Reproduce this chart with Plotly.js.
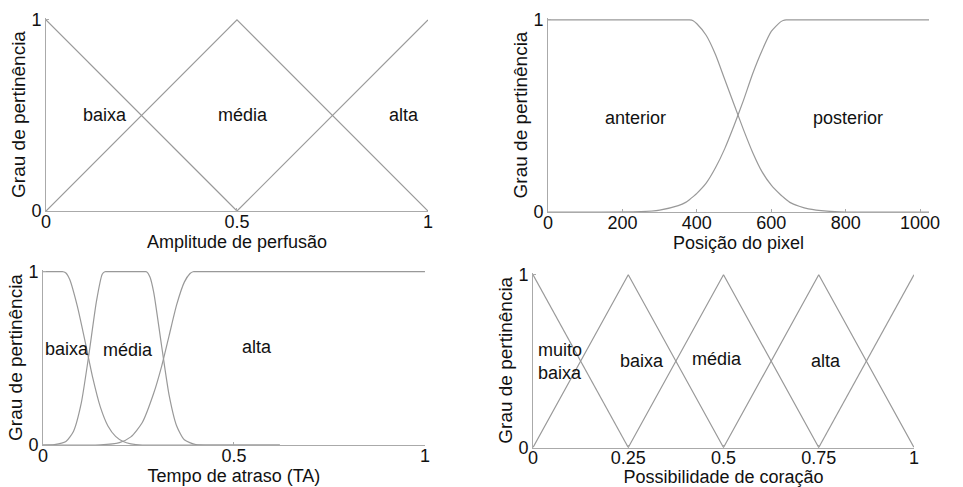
<!DOCTYPE html>
<html>
<head>
<meta charset="utf-8">
<script src="https://cdn.plot.ly/plotly-3.0.1.min.js"></script>
<style>html,body{margin:0;padding:0;background:#fff;}#chart{width:963px;height:487px;}</style>
</head>
<body>
<div id="chart"></div>
<script>
// ---- Panel 1: Amplitude de perfusão ----
const ampBaixaX = [0, 0.5];
const ampBaixaY = [1, 0];
const ampMediaX = [0, 0.5, 1];
const ampMediaY = [0, 1, 0];
const ampAltaX = [0.5, 1];
const ampAltaY = [0, 1];
const ampLabels = ["baixa", "média", "alta"];
const ampLabelX = [0.155, 0.515, 0.937];
const ampLabelY = [0.5, 0.5, 0.5];
const ampTicks = [0, 0.5, 1];
const ampTickText = ["0", "0.5", "1"];

// ---- Panel 2: Posição do pixel ----
const pixX = [0, 250, 300, 350, 370, 380, 390, 400, 425, 450, 475, 500, 525, 550, 575, 600, 625, 632, 640, 650, 675, 700, 750, 800, 1024];
const pixAnterior = [1, 1, 1, 1, 1, 1, 0.996, 0.98, 0.92, 0.82, 0.69, 0.56, 0.43, 0.31, 0.21, 0.14, 0.09, 0.078, 0.065, 0.05, 0.03, 0.016, 0.004, 0, 0];
const pixPosterior = [0, 0.002, 0.01, 0.033, 0.05, 0.064, 0.08, 0.097, 0.15, 0.23, 0.33, 0.45, 0.58, 0.72, 0.84, 0.94, 0.99, 0.997, 1, 1, 1, 1, 1, 1, 1];
const pixLabels = ["anterior", "posterior"];
const pixLabelX = [234, 806];
const pixLabelY = [0.49, 0.49];
const pixTicks = [0, 200, 400, 600, 800, 1000];
const pixTickText = ["0", "200", "400", "600", "800", "1000"];

// ---- Panel 3: Tempo de atraso (TA) ----
const taBaixaX = [0, 0.03, 0.046, 0.053, 0.06, 0.07, 0.09, 0.11, 0.13, 0.15, 0.17, 0.19, 0.21, 0.23, 0.26, 0.3, 0.62];
const taBaixaY = [1, 1, 1, 1, 0.993, 0.955, 0.80, 0.60, 0.39, 0.22, 0.11, 0.05, 0.02, 0.007, 0, 0, 0];
const taMediaX = [0, 0.03, 0.06, 0.08, 0.10, 0.12, 0.14, 0.155, 0.162, 0.17, 0.22, 0.263, 0.271, 0.28, 0.29, 0.31, 0.33, 0.35, 0.37, 0.40, 0.45, 0.62];
const taMediaY = [0, 0.002, 0.02, 0.08, 0.24, 0.52, 0.83, 0.985, 1, 1, 1, 1, 1, 0.97, 0.88, 0.58, 0.29, 0.11, 0.03, 0.003, 0, 0];
const taAltaX = [0, 0.10, 0.15, 0.20, 0.23, 0.26, 0.29, 0.31, 0.33, 0.35, 0.37, 0.385, 0.393, 0.40, 0.45, 0.6, 0.8, 1];
const taAltaY = [0, 0, 0.001, 0.014, 0.047, 0.13, 0.30, 0.45, 0.63, 0.81, 0.94, 0.99, 1, 1, 1, 1, 1, 1];
const taLabels = ["baixa", "média", "alta"];
const taLabelX = [0.062, 0.223, 0.56];
const taLabelY = [0.555, 0.55, 0.565];
const taTicks = [0, 0.5, 1];
const taTickText = ["0", "0.5", "1"];

// ---- Panel 4: Possibilidade de coração ----
const posMuitoBaixaX = [0, 0.25];
const posMuitoBaixaY = [1, 0];
const posBaixaX = [0, 0.25, 0.5];
const posBaixaY = [0, 1, 0];
const posMediaX = [0.25, 0.5, 0.75];
const posMediaY = [0, 1, 0];
const posAltaX = [0.5, 0.75, 1];
const posAltaY = [0, 1, 0];
const posMuitoAltaX = [0.75, 1];
const posMuitoAltaY = [0, 1];
const posLabels = ["muito<br>baixa", "baixa", "média", "alta", "muito alta"];
const posLabelX = [0.008, 0.285, 0.482, 0.768, 1.01];
const posLabelY = [0.5, 0.5, 0.51, 0.5, 0.5];
const posTicks = [0, 0.25, 0.5, 0.75, 1];
const posTickText = ["0", "0.25", "0.5", "0.75", "1"];

const yTicks = [0, 1];
const yTickText = ["0", "1"];

const FONT = "Liberation Sans, Arial, sans-serif";
const LINE = {color: "#999", width: 1.2};
const SPL = {color: "#999", width: 1.2, shape: "spline", smoothing: 0.6};

function tr(x, y, xa, ya, line) {
  return {x: x, y: y, xaxis: xa, yaxis: ya, mode: "lines", line: line || LINE, hoverinfo: "skip", showlegend: false};
}

const traces = [
  tr(ampBaixaX, ampBaixaY, "x", "y"),
  tr(ampMediaX, ampMediaY, "x", "y"),
  tr(ampAltaX, ampAltaY, "x", "y"),
  tr(pixX, pixAnterior, "x2", "y2", SPL),
  tr(pixX, pixPosterior, "x2", "y2", SPL),
  tr(taBaixaX, taBaixaY, "x3", "y3", SPL),
  tr(taMediaX, taMediaY, "x3", "y3", SPL),
  tr(taAltaX, taAltaY, "x3", "y3", SPL),
  tr(posMuitoBaixaX, posMuitoBaixaY, "x4", "y4"),
  tr(posBaixaX, posBaixaY, "x4", "y4"),
  tr(posMediaX, posMediaY, "x4", "y4"),
  tr(posAltaX, posAltaY, "x4", "y4"),
  tr(posMuitoAltaX, posMuitoAltaY, "x4", "y4")
];

function xAxis(domain, range, ticks, text, title, anchor) {
  return {
    domain: domain, range: range, anchor: anchor,
    tickmode: "array", tickvals: ticks, ticktext: text,
    ticks: "inside", ticklen: 3, tickcolor: "#aaa",
    ticklabelstandoff: -6,
    showline: true, linecolor: "#aaa", linewidth: 1,
    showgrid: false, zeroline: false,
    tickfont: {family: FONT, size: 18, color: "#111"},
    title: {text: title, font: {family: FONT, size: 18, color: "#111"}, standoff: 0},
    automargin: false, fixedrange: true
  };
}
function yAxis(domain, anchor) {
  return {
    domain: domain, range: [0, 1.01], anchor: anchor,
    tickmode: "array", tickvals: yTicks, ticktext: yTickText,
    ticks: "inside", ticklen: 3, tickcolor: "#aaa",
    showline: true, linecolor: "#aaa", linewidth: 1,
    showgrid: false, zeroline: false,
    tickfont: {family: FONT, size: 18, color: "#111"},
    title: {text: "Grau de pertinência", font: {family: FONT, size: 19, color: "#111"}, standoff: 0},
    automargin: false, fixedrange: true
  };
}

function ann(labels, xs, ys, xr, yr, anchors) {
  return labels.map((t, i) => ({
    text: t, x: xs[i], y: ys[i], xref: xr, yref: yr, showarrow: false,
    xanchor: anchors ? anchors[i] : "center", yanchor: "middle", align: "left",
    font: {family: FONT, size: 18, color: "#111"}
  }));
}

const annotations = [].concat(
  ann(ampLabels, ampLabelX, ampLabelY, "x", "y"),
  ann(pixLabels, pixLabelX, pixLabelY, "x2", "y2"),
  ann(taLabels, taLabelX, taLabelY, "x3", "y3"),
  ann(posLabels, posLabelX, posLabelY, "x4", "y4", ["left", "center", "center", "center", "center"])
);

const layout = {
  width: 963, height: 487,
  margin: {l: 0, r: 0, t: 0, b: 0},
  paper_bgcolor: "#fff", plot_bgcolor: "#fff",
  showlegend: false,
  font: {family: FONT, size: 18, color: "#111"},
  xaxis: xAxis([0.0478, 0.4444], [0, 1], ampTicks, ampTickText, "Amplitude de perfusão", "y"),
  yaxis: yAxis([0.5667, 0.9630], "x"),
  xaxis2: xAxis([0.5691, 0.9647], [0, 1024], pixTicks, pixTickText, "Posição do pixel", "y2"),
  yaxis2: yAxis([0.5647, 0.9630], "x2"),
  xaxis3: xAxis([0.04465, 0.4413], [0, 1], taTicks, taTickText, "Tempo de atraso (TA)", "y3"),
  yaxis3: yAxis([0.0862, 0.4456], "x3"),
  xaxis4: xAxis([0.5535, 0.9491], [0, 1], posTicks, posTickText, "Possibilidade de coração", "y4"),
  yaxis4: yAxis([0.0811, 0.4394], "x4"),
  annotations: annotations
};

Plotly.newPlot("chart", traces, layout, {staticPlot: true, displayModeBar: false});
</script>
</body>
</html>
